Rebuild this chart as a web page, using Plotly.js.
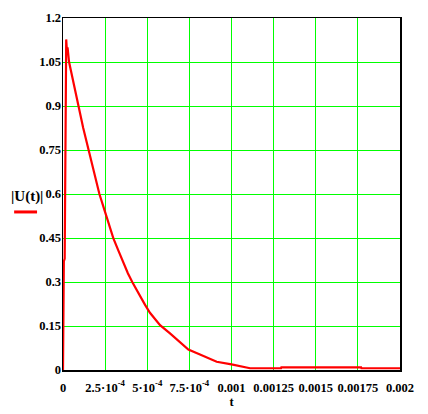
<!DOCTYPE html>
<html>
<head>
<meta charset="utf-8">
<script src="https://cdn.plot.ly/plotly-3.0.1.min.js"></script>
<style>html,body{margin:0;padding:0;background:#fff;}#chart{width:428px;height:414px;}</style>
</head>
<body>
<div id="chart"></div>
<script>
// time values (s)
var tValues = [0, 0.000005, 0.000010, 0.000015, 0.000019, 0.000023, 0.000027, 0.000036, 0.000060, 0.000091, 0.000120, 0.000152, 0.000185, 0.000216, 0.000249, 0.000279, 0.000299, 0.000330, 0.000358, 0.000385, 0.000411, 0.000450, 0.000487, 0.000516, 0.000546, 0.000576, 0.000635, 0.000690, 0.000744, 0.000813, 0.000860, 0.000912, 0.001000, 0.001060, 0.001110, 0.001294, 0.001296, 0.001769, 0.001771, 0.002];
// |U(t)| values
var uValues = [0, 0.37, 0.38, 1.11, 1.127, 1.09, 1.10, 1.05, 0.985, 0.90, 0.825, 0.75, 0.672, 0.60, 0.54, 0.48, 0.449, 0.405, 0.364, 0.33, 0.30, 0.258, 0.222, 0.195, 0.172, 0.153, 0.125, 0.096, 0.07, 0.053, 0.04, 0.028, 0.019, 0.011, 0.006, 0.006, 0.009, 0.009, 0.006, 0.006];
var xTickVals = [0, 0.00025, 0.0005, 0.00075, 0.001, 0.00125, 0.0015, 0.00175, 0.002];
var xTickText = ["0", "2.5·10<sup>-4</sup>", "5·10<sup>-4</sup>", "7.5·10<sup>-4</sup>", "0.001", "0.00125", "0.0015", "0.00175", "0.002"];
var yTickVals = [0, 0.15, 0.3, 0.45, 0.6, 0.75, 0.9, 1.05, 1.2];
var yTickText = ["0", "0.15", "0.3", "0.45", "0.6", "0.75", "0.9", "1.05", "1.2"];
var xLabel = "t";
var yLabel = "|U(t)|";

var tickFont = {family: "Liberation Serif, Times New Roman, serif", size: 12.5, color: "#000", weight: "bold"};

var trace = {
  x: tValues, y: uValues, type: "scatter", mode: "lines",
  line: {color: "#ff0000", width: 2.2, shape: "linear"},
  hoverinfo: "none", showlegend: false
};

var layout = {
  width: 428, height: 414,
  margin: {l: 63, r: 28, t: 18, b: 44},
  paper_bgcolor: "#fff", plot_bgcolor: "#fff",
  xaxis: {
    range: [0, 0.002], tickmode: "array", tickvals: xTickVals, ticktext: xTickText,
    showgrid: true, gridcolor: "#00ff00", gridwidth: 1,
    showline: true, linecolor: "#000", linewidth: 1.5, mirror: true,
    zeroline: false, ticks: "", tickfont: tickFont, ticklabelstandoff: 5,
    title: {text: xLabel, font: tickFont, standoff: 0}
  },
  yaxis: {
    range: [0, 1.2], tickmode: "array", tickvals: yTickVals, ticktext: yTickText,
    showgrid: true, gridcolor: "#00ff00", gridwidth: 1,
    showline: true, linecolor: "#000", linewidth: 1.5, mirror: true,
    zeroline: false, ticks: "", tickfont: tickFont, ticklabelstandoff: -2
  },
  annotations: [{
    xref: "paper", yref: "paper", x: -0.107, y: 0.494, xanchor: "center", yanchor: "middle",
    text: yLabel, showarrow: false,
    font: {family: "Liberation Serif, Times New Roman, serif", size: 15, color: "#000", weight: "bold"}
  }],
  shapes: [{
    type: "line", xref: "paper", yref: "paper", x0: -0.145, x1: -0.077, y0: 0.449, y1: 0.449,
    line: {color: "#ff0000", width: 3}
  }]
};

Plotly.newPlot("chart", [trace], layout, {staticPlot: true, displayModeBar: false});
</script>
</body>
</html>
